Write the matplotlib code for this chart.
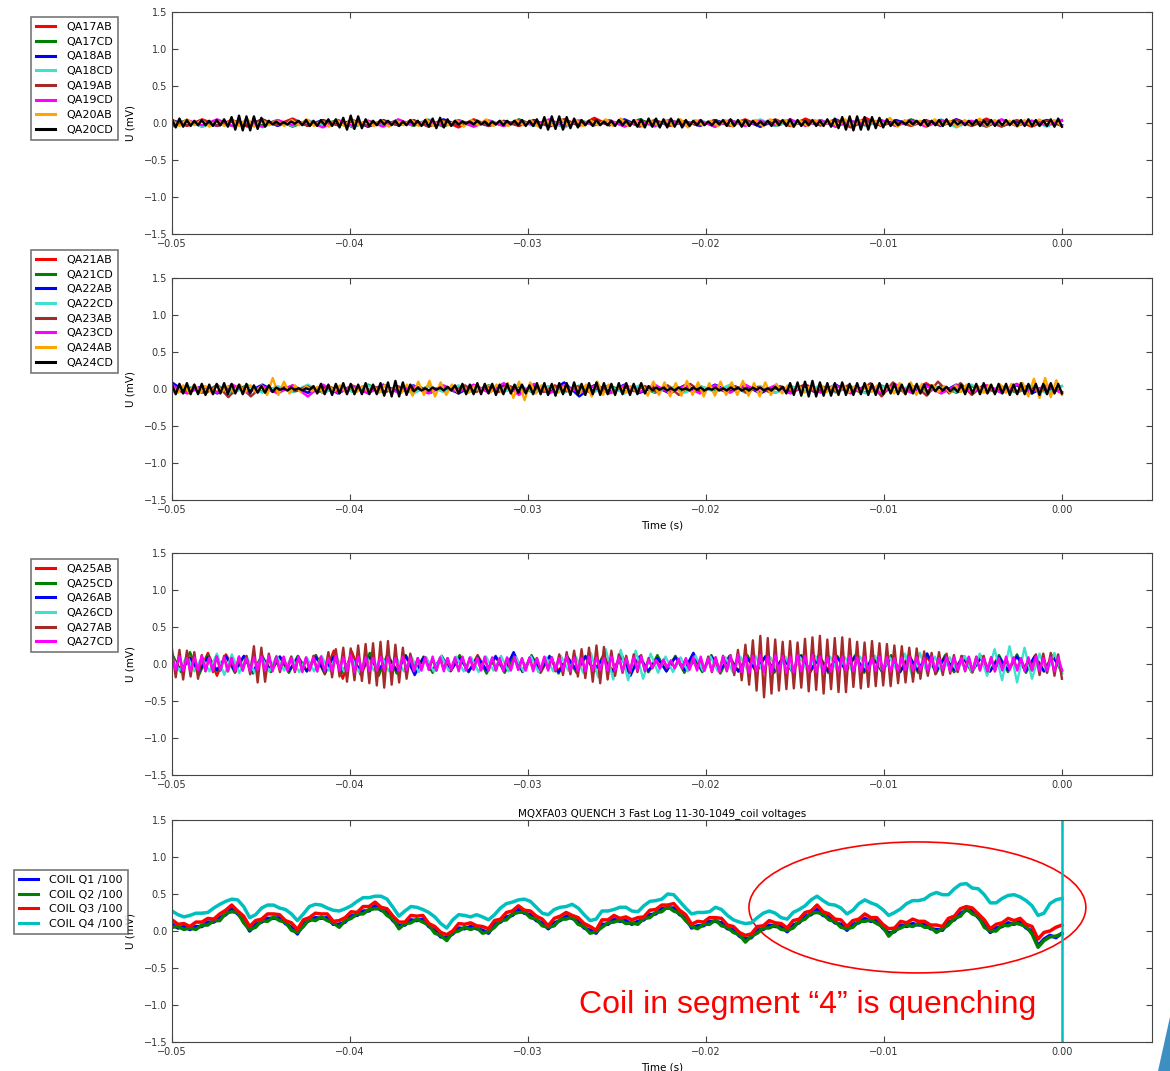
import numpy as np
import matplotlib
matplotlib.use("Agg")
import matplotlib.pyplot as plt
from matplotlib.patches import Ellipse, Polygon

plt.rcParams["font.family"] = ["DejaVu Sans"]
plt.rcParams["xtick.direction"] = "in"
plt.rcParams["ytick.direction"] = "in"
plt.rcParams["xtick.top"] = True
plt.rcParams["ytick.right"] = True
plt.rcParams["xtick.major.size"] = 4
plt.rcParams["ytick.major.size"] = 4
plt.rcParams["axes.edgecolor"] = "#444444"
plt.rcParams["xtick.color"] = "#444444"
plt.rcParams["ytick.color"] = "#444444"
plt.rcParams["xtick.labelcolor"] = "#333333"
plt.rcParams["ytick.labelcolor"] = "#333333"

# all voltages below are in hundredths of a mV
# ---------------- panel 1 ----------------
qa17ab = [3,-4,5,-3,4,-5,3,-2,6,-4,3,-3,4,-5,2,-3,4,-4,3,-6,5,-3,2,-4,3,-3,5,-4,7,-3,
          4,-5,3,-4,2,-3,4,-3,5,-5,3,-4,6,-3,4,-5,7,-4,3,-3,4,-4,5,-3,6,-4,3,-5,4,-3]
qa17cd = [-3,4,-5,3,-4,2,-3,4,-5,3,-2,4,-6,3,-3,4,-4,3,-5,4,-3,2,-4,5,-3,3,-6,4,-3,3,
          -4,5,-3,4,-2,3,-5,4,-3,3,-4,2,-3,4,-5,3,-3,4,-4,5,-3,3,-4,2,-5,4,-3,3,-4,3]
qa18ab = [4,-3,3,-4,2,-3,5,-4,3,-3,4,-2,3,-5,4,-3,3,-4,5,-3,2,-4,3,-3,4,-5,3,-2,4,-3,
          5,-4,3,-3,2,-4,4,-3,3,-5,4,-3,2,-3,5,-4,3,-3,4,-2,3,-4,5,-3,3,-4,2,-3,4,-3]
qa18cd = [-4,3,-5,4,-3,2,-6,3,-4,4,-3,3,-5,2,-4,3,-3,5,-4,3,-5,4,-3,2,-4,3,-6,4,-3,3,
          -4,2,-5,3,-3,4,-4,3,-3,5,-4,2,-3,4,-5,3,-4,3,-3,2,-4,5,-6,3,-3,4,-4,3,-5,4]
qa19ab = [3,-3,4,-4,3,-2,4,-3,5,-4,3,-3,2,-4,3,-3,4,-5,3,-3,4,-4,2,-3,3,-4,5,-3,4,-3,
          3,-4,4,-3,2,-3,3,-4,4,-3,5,-4,3,-3,4,-6,3,-3,2,-4,3,-3,4,-4,3,-5,4,-3,3,-4]
qa19cd = [-5,4,-3,5,-4,3,-5,4,-3,3,-6,4,-4,3,-5,5,-3,4,-4,3,-5,3,-4,4,-3,5,-4,3,-3,4,
          -5,3,-4,4,-3,3,-5,4,-4,3,-3,5,-4,4,-5,3,-3,4,-4,3,-5,4,-3,3,-4,5,-4,3,-3,4]
qa20ab = [4,-4,5,-3,4,-5,3,-4,5,-4,6,-5,4,-3,3,-4,4,-3,5,-4,3,-5,4,-4,5,-3,3,-4,4,-5,
          3,-3,4,-4,5,-4,3,-3,4,-5,4,-3,5,-4,3,-4,4,-3,3,-5,4,-4,5,-3,4,-4,3,-3,5,-4,
          6,-4,4,-5,3,-3,4,-4,5,-6,4,-3,3,-4,4,-5,3,-3,4,-4,5,-3,4,-5,3,-4,4,-3,3,-4,
          5,-5,4,-3,3,-4,7,-5,4,-3,3,-4,5,-4,3,-5,4,-3,6,-4,4,-3,3,-5,4,-4,5,-3,4,-4]
qa20cd = [5,-6,6,-5,4,-4,3,-3,4,-3,3,-4,4,-3,5,-5,8,-9,10,-10,
          9,-10,9,-8,7,-5,3,-2,2,-2,1,-2,2,-1,3,-3,4,-4,3,-4,
          4,-3,5,-4,5,-6,7,-9,10,-8,9,-7,5,-4,3,-3,4,-2,3,-3,
          3,-4,2,-3,4,-3,3,-4,4,-5,6,-7,7,-6,5,-4,3,-2,2,-1,
          2,-2,3,-2,2,-3,2,-2,3,-3,3,-2,3,-3,4,-4,3,-4,5,-7,
          8,-9,9,-8,9,-9,8,-7,6,-6,4,-3,3,-4,4,-3,2,-3,3,-4,
          4,-3,3,-4,4,-5,5,-6,6,-5,6,-6,5,-6,6,-5,5,-6,4,-4,
          3,-3,4,-3,2,-3,3,-2,4,-4,5,-4,4,-5,4,-4,3,-3,2,-3,
          3,-4,4,-3,4,-4,5,-5,4,-4,3,-3,4,-4,3,-4,5,-5,6,-7,
          8,-9,9,-10,9,-9,8,-9,8,-7,7,-6,5,-4,3,-3,2,-2,3,-2,
          3,-3,4,-4,3,-3,4,-4,5,-4,3,-2,2,-3,3,-3,4,-4,3,-3,
          4,-4,3,-3,4,-3,3,-4,4,-4,5,-4,4,-4,3,-4,5,-5,6,-5]

# ---------------- panel 2 ----------------
qa21ab = [4,-5,3,-4,5,-4,4,-3,5,-5,3,-4,4,-3,5,-4,3,-5,4,-4,5,-3,4,-4,3,-5,4,-4,5,-3,
          4,-5,3,-4,5,-4,3,-3,4,-5,4,-4,6,-3,5,-4,3,-5,4,-4,8,-5,4,-3,5,-4,7,-4,5,-4]
qa21cd = [-4,3,-5,4,-3,5,-4,3,-4,4,-5,3,-3,6,-4,3,-5,4,-3,4,-4,5,-3,3,-5,4,-4,3,-3,5,
          -4,4,-5,3,-4,4,-3,5,-4,3,-5,4,-3,4,-4,3,-5,5,-4,3,-3,4,-5,4,-4,3,-5,4,-3,4]
qa22ab = [9,-5,4,-6,5,-4,6,-5,4,-5,5,-6,4,-5,6,-4,5,-5,4,-6,5,-4,6,-5,4,-5,9,-10,5,-4,
          6,-5,4,-6,5,-5,6,-4,5,-6,4,-5,5,-4,6,-5,4,-6,5,-4,5,-5,6,-4,4,-5,5,-6,4,-5]
qa22cd = [-5,4,-4,5,-6,4,-5,4,-4,6,-5,3,-4,5,-5,4,-6,4,-4,5,-5,4,-4,6,-5,4,-5,5,-4,4,
          -6,5,-4,3,-5,4,-4,6,-5,4,-5,4,-4,5,-5,4,-6,4,-4,5,-5,3,-4,6,-5,4,-4,5,-6,4]
qa23ab = [3,-5,4,-6,6,-11,5,-10,4,-4,3,-3,4,-4,3,-3,5,-4,3,-4,4,-3,3,-5,4,-3,5,-4,3,-4,
          4,-3,3,-4,5,-3,4,-4,3,-5,4,-3,4,-4,5,-8,7,-4,3,-3,4,-5,3,-4,4,-3,5,-4,3,-4,
          5,-4,8,-10,9,-5,4,-9,10,-6,8,-8,5,-4,3,-4,5,-4,3,-4]
qa23cd = [5,-6,4,-5,6,-5,4,-6,5,-10,6,-5,4,-6,5,-5,4,-6,5,-4,6,-5,8,-8,7,-6,5,-5,4,-6,
          5,-4,6,-5,4,-6,5,-5,6,-4,5,-6,4,-5,5,-6,4,-5,6,-5,4,-6,5,-4,5,-5,6,-4,5,-6]
qa24ab = [4,-5,5,-4,6,-5,4,-4,5,-3,4,-4,6,-5,5,-4,5,-8,15,-8,
          10,-6,5,-4,4,-3,3,-4,4,-3,5,-4,3,-4,4,-3,4,-5,5,-4,
          4,-5,6,-9,10,-8,11,-10,9,-8,6,-4,4,-5,4,-3,5,-4,6,-5,
          8,-12,10,-15,9,-6,5,-4,4,-5,3,-4,5,-4,6,-10,10,-8,6,-5,
          4,-5,4,-4,6,-9,10,-8,9,-10,8,-9,11,-8,9,-10,8,-9,10,-8,
          9,-8,11,-9,8,-10,9,-8,7,-6,5,-4,4,-5,4,-3,5,-4,4,-5,
          5,-4,4,-5,6,-4,5,-5,4,-6,8,-7,9,-8,7,-6,5,-4,4,-5,
          5,-4,6,-5,4,-5,5,-4,6,-5,7,-6,8,-10,14,-12,15,-11,12,-8]
qa24cd = [6,-7,7,-6,8,-7,6,-7,7,-8,6,-7,7,-6,8,-7,7,-6,6,-7,
          7,-6,5,-5,4,-5,5,-4,2,-1,1,-2,2,-1,1,-2,1,-1,4,-6,
          7,-7,6,-8,7,-6,8,-7,7,-7,6,-7,8,-7,6,-7,8,-9,9,-10,
          11,-10,9,-8,6,-3,2,-2,1,-2,2,-1,2,-2,3,-2,5,-6,7,-7,
          6,-7,8,-7,7,-6,7,-8,6,-7,7,-6,6,-5,6,-6,5,-7,8,-7,
          8,-8,7,-9,8,-7,8,-8,9,-8,7,-8,8,-7,9,-8,8,-7,7,-8,
          8,-7,8,-8,7,-7,8,-6,4,-2,2,-1,2,-2,1,-2,2,-1,1,-2,
          2,-1,2,-2,1,-1,2,-2,1,-2,2,-1,2,-2,1,-2,2,-1,2,-2,
          1,-2,3,-2,3,-6,8,-8,9,-9,10,-10,11,-10,9,-9,8,-9,8,-8,
          9,-8,7,-8,8,-7,8,-8,7,-8,8,-7,7,-6,7,-7,6,-7,7,-6,
          7,-6,6,-7,5,-3,3,-2,3,-3,2,-4,6,-7,7,-6,7,-7,8,-6,
          6,-7,7,-6,7,-8,6,-7,8,-7,7,-6,7,-8,7,-7,8,-6,7,-6]

# ---------------- panel 3 ----------------
qa25ab = [12,-10,9,-12,15,-16,13,-9,10,-11,8,-10,9,-11,10,-9,12,-14,18,-20,
          17,-15,11,-10,9,-8,10,-11,9,-10,8,-9,10,-11,12,-10,9,-8,11,-10,
          9,-12,10,-9,8,-10,9,-8,10,-9,11,-10,9,-11,8,-9,10,-8,9,-10,
          11,-9,8,-10,9,-11,10,-9,8,-10,9,-11,10,-8,9,-10,11,-9,10,-8,
          9,-11,12,-10,9,-9,10,-11,8,-9,10,-10,9,-8,11,-10,9,-9,12,-10]
qa25cd = [14,-11,16,-15,12,-10,11,-12,10,-13,12,-11,10,-12,11,-10,12,-13,11,-12,
          10,-11,15,-16,14,-13,12,-11,10,-12,11,-10,12,-11,10,-13,11,-12,10,-11,
          12,-10,11,-13,10,-12,11,-10,12,-11,13,-12,10,-11,12,-10,11,-12,10,-11,
          12,-13,11,-10,12,-11,10,-12,11,-10,12,-11,13,-12,11,-10,12,-12,10,-11,
          12,-10,11,-12,14,-13,12,-11,10,-12,11,-10,12,-11,13,-12,11,-10,12,-12]
qa26ab = [10,-9,8,-10,9,-8,10,-9,11,-10,9,-8,10,-9,8,-10,9,-11,10,-9,
          8,-10,9,-8,10,-9,11,-15,9,-8,10,-9,8,-10,9,-8,10,-9,16,-10,
          9,-8,10,-11,9,-8,10,-9,8,-10,9,-16,10,-9,8,-10,9,-8,15,-9,
          10,-8,9,-10,8,-9,10,-8,9,-10,11,-9,8,-10,9,-8,10,-9,8,-10,
          9,-11,10,-9,14,-10,9,-8,10,-9,8,-10,9,-8,10,-9,11,-10,9,-8]
qa26cd = [10,-9,11,-10,9,-10,14,-15,13,-12,10,-11,9,-10,11,-9,10,-11,9,-10,
          11,-9,10,-10,9,-11,10,-9,11,-10,9,-10,10,-11,9,-10,11,-9,10,-10,
          9,-11,10,-9,11,-10,9,-10,10,-11,9,-10,11,-9,10,-12,15,-18,20,-21,
          19,-22,18,-20,14,-12,10,-11,9,-10,11,-9,10,-10,9,-11,10,-9,11,-10,
          9,-10,10,-11,9,-10,11,-9,10,-10,9,-11,10,-9,11,-10,9,-10,14,-16,
          15,-13,10,-11,9,-10,11,-12,14,-16,20,-22,24,-25,22,-20,14,-12,15,-13]
qa27ab = [20,-18,19,-21,18,-17,16,-20,12,-10,9,-11,10,-9,11,-10,8,-11,10,-9,
          11,-14,24,-25,22,-24,14,-9,10,-11,9,-8,10,-11,9,-10,8,-9,11,-10,
          9,-12,16,-18,20,-17,22,-24,21,-22,25,-23,27,-26,28,-29,30,-32,31,-28,
          26,-25,22,-20,14,-9,8,-7,9,-8,7,-9,8,-7,8,-9,7,-8,9,-7,
          8,-7,9,-8,7,-8,8,-9,7,-8,8,-7,9,-8,7,-8,8,-7,8,-9,
          8,-7,9,-10,13,-15,16,-14,18,-17,20,-19,22,-24,25,-26,23,-21,18,-16,
          13,-12,11,-12,13,-11,12,-10,8,-6,5,-4,5,-5,4,-5,6,-4,5,-5,
          4,-6,7,-9,10,-11,9,-10,11,-10,12,-15,19,-22,26,-28,32,-36,38,-45,
          35,-40,33,-36,30,-34,31,-33,29,-32,34,-37,36,-35,38,-40,33,-34,35,-38,
          36,-38,34,-31,30,-33,29,-31,31,-30,28,-29,27,-30,25,-26,24,-25,22,-24,
          21,-20,17,-16,15,-14,16,-15,14,-13,12,-11,11,-10,9,-11,10,-9,11,-10,
          9,-10,8,-6,5,-6,4,-5,6,-5,5,-9,13,-15,14,-12,15,-16,13,-20]
qa27cd = [9,-8,10,-9,8,-10,9,-8,11,-9,8,-9,10,-8,9,-10,8,-9,10,-9,
          8,-10,9,-8,10,-9,11,-10,9,-8,10,-9,8,-9,10,-11,9,-8,9,-10,
          10,-9,8,-10,11,-9,9,-10,12,-11,10,-9,9,-10,8,-9,10,-8,9,-9,
          8,-9,10,-8,9,-10,8,-9,9,-8,10,-9,9,-10,8,-8,9,-10,10,-9,
          9,-8,8,-9,10,-9,9,-8,8,-10,9,-9,10,-8,8,-9,9,-10,8,-8,
          10,-9,9,-8,8,-9,11,-10,9,-9,8,-10,10,-9,9,-8,8,-9,10,-9,
          9,-10,8,-9,9,-8,10,-9,6,-5,5,-6,6,-5,5,-6,7,-6,8,-8,
          9,-9,10,-9,8,-10,9,-11,10,-9,11,-10,12,-11,10,-12,11,-10,12,-11,
          10,-11,12,-10,11,-12,10,-11,12,-10,11,-10,12,-11,10,-11,9,-10,11,-10,
          10,-9,11,-10,9,-10,10,-9,8,-9,10,-8,9,-10,8,-9,9,-8,10,-9,
          9,-8,8,-9,10,-9,8,-8,9,-10,9,-8,8,-9,10,-9,9,-8,8,-9,
          9,-10,8,-9,10,-8,9,-9,8,-10,9,-8,10,-9,8,-9,9,-10,9,-8]

# ---------------- panel 4 (coil voltages /100) ----------------
coil_q1 = [9,4,6,2,6,6,12,12,18,22,30,23,15,0,9,12,17,17,18,10,
           5,-4,10,14,18,17,18,9,9,12,21,21,27,27,34,28,25,14,7,8,
           15,14,16,6,1,-8,-9,-4,4,3,6,3,1,-3,9,12,19,21,29,24,
           22,14,11,3,11,14,20,17,13,4,1,-3,9,9,16,13,14,9,13,15,
           22,23,30,31,31,22,18,4,7,7,13,13,11,3,2,-7,-11,-9,1,2,
           8,6,6,-1,8,11,20,22,29,21,19,11,9,1,9,11,17,13,14,4,
           -3,-1,8,6,10,8,9,3,2,1,12,15,24,28,27,18,9,-2,4,6,
           11,9,13,4,0,-20,-11,-6,-9,-3]
coil_q2 = [5,6,2,4,2,8,8,14,14,24,26,25,11,2,5,14,13,19,14,12,
           1,-2,6,16,14,19,14,11,5,14,17,23,23,29,30,30,21,16,3,10,
           11,16,12,8,-3,-6,-13,-2,0,5,2,5,-3,-1,5,14,15,23,25,26,
           18,16,7,5,7,16,16,19,9,6,-3,-1,5,11,12,15,10,11,9,17,
           18,25,26,33,27,24,14,6,3,9,9,15,7,5,-2,-5,-15,-7,-3,4,
           4,8,2,1,4,13,16,24,25,23,15,13,5,3,5,13,13,15,10,6,
           -7,1,4,8,6,10,5,5,-2,3,8,17,20,30,23,20,5,0,0,8,
           7,11,9,6,-4,-22,-13,-8,-7,-4]
coil_q3 = [15,9,10,6,12,12,17,16,23,28,35,27,20,6,14,16,23,23,22,14,
           11,2,15,18,24,23,23,13,14,18,26,25,33,33,39,32,30,20,12,12,
           21,20,21,10,6,-2,-5,0,10,9,11,7,6,3,14,16,25,27,34,28,
           27,20,16,7,17,20,25,21,18,10,6,1,15,15,21,17,19,15,18,19,
           28,29,35,35,37,28,22,9,13,12,18,18,17,8,6,-2,-6,-4,6,7,
           14,11,10,4,14,16,25,27,35,26,23,16,15,6,14,16,23,18,18,9,
           3,4,13,11,16,13,13,8,8,6,17,20,30,33,31,23,15,3,9,11,
           17,14,17,9,6,-11,-2,0,5,8]
coil_q4 = [27,22,19,21,24,24,25,31,36,40,43,42,33,18,22,31,35,35,31,29,
           23,14,23,33,36,35,31,28,27,30,34,40,45,45,47,47,43,32,20,27,
           33,32,29,25,19,10,4,15,22,21,19,22,19,15,22,31,37,39,42,43,
           40,32,24,22,29,32,33,36,31,22,14,16,27,27,29,32,32,27,26,34,
           40,41,43,50,49,40,31,23,25,25,26,32,29,21,15,12,10,11,18,24,
           27,24,18,16,25,29,34,42,47,41,36,35,31,23,28,37,42,38,35,29,
           21,25,30,37,41,41,43,49,52,49,49,57,63,64,58,57,49,38,38,44,
           48,49,46,41,34,21,24,37,42,44]

panel1_labels = ["QA17AB", "QA17CD", "QA18AB", "QA18CD", "QA19AB", "QA19CD", "QA20AB", "QA20CD"]
panel1_series = [qa17ab, qa17cd, qa18ab, qa18cd, qa19ab, qa19cd, qa20ab, qa20cd]
panel2_labels = ["QA21AB", "QA21CD", "QA22AB", "QA22CD", "QA23AB", "QA23CD", "QA24AB", "QA24CD"]
panel2_series = [qa21ab, qa21cd, qa22ab, qa22cd, qa23ab, qa23cd, qa24ab, qa24cd]
panel3_labels = ["QA25AB", "QA25CD", "QA26AB", "QA26CD", "QA27AB", "QA27CD"]
panel3_series = [qa25ab, qa25cd, qa26ab, qa26cd, qa27ab, qa27cd]
panel4_labels = ["COIL Q1 /100", "COIL Q2 /100", "COIL Q3 /100", "COIL Q4 /100"]
panel4_series = [coil_q1, coil_q2, coil_q3, coil_q4]

qa_colors = ["red", "green", "blue", "turquoise", "brown", "magenta", "orange", "black"]
coil_colors = ["b", "g", "r", "c"]

x_ticks = [-0.05, -0.04, -0.03, -0.02, -0.01, 0.00]
y_ticks = [-1.5, -1.0, -0.5, 0.0, 0.5, 1.0, 1.5]

fig = plt.figure(figsize=(11.7, 10.71), dpi=100)
fig.patch.set_facecolor("white")

ax_left, ax_width, ax_height = 0.147, 0.8376, 0.2073
ax_bottoms = [0.7815, 0.5331, 0.2764, 0.0271]


def draw_panel(ax, labels, series, colors, anchor, lw=1.7):
    for lab, vals, col in zip(labels, series, colors):
        v = np.array(vals) / 100.0
        t = np.linspace(-0.05, 0.0, len(v))
        ax.plot(t, v, color=col, lw=lw, label=lab)
    ax.set_xlim(-0.05, 0.00506)
    ax.set_ylim(-1.5, 1.5)
    ax.set_xticks(x_ticks)
    ax.set_yticks(y_ticks)
    ax.tick_params(labelsize=7)
    ax.set_ylabel("U (mV)", fontsize=7.5, labelpad=6)
    leg = ax.legend(loc="upper right", bbox_to_anchor=anchor, fontsize=8,
                    fancybox=False, borderaxespad=0, handlelength=1.7,
                    handletextpad=1.0, labelspacing=0.42, borderpad=0.45)
    leg.get_frame().set_edgecolor("#555555")
    leg.get_frame().set_linewidth(1.2)
    for line in leg.get_lines():
        line.set_linewidth(2.2)
    return leg


axes = [fig.add_axes([ax_left, b, ax_width, ax_height]) for b in ax_bottoms]

draw_panel(axes[0], panel1_labels, panel1_series, qa_colors, (-0.055, 0.977))
draw_panel(axes[1], panel2_labels, panel2_series, qa_colors, (-0.055, 1.127))
axes[1].set_xlabel("Time (s)", fontsize=7.5)
draw_panel(axes[2], panel3_labels, panel3_series, qa_colors[:6], (-0.055, 0.973))
draw_panel(axes[3], panel4_labels, panel4_series, coil_colors, (-0.045, 0.775), lw=2.5)
axes[3].set_xlabel("Time (s)", fontsize=7.5)
axes[3].set_title("MQXFA03 QUENCH 3 Fast Log 11-30-1049_coil voltages", fontsize=7.5, pad=3)

# quench: Q4 trace shoots off-scale at t = 0
axes[3].axvline(0.0, color="c", lw=1.8)

axes[3].add_patch(Ellipse((-0.00812, 0.318), width=0.01893, height=1.77,
                          fill=False, edgecolor="red", lw=1.2))
axes[3].text(-0.0143, -1.0, "Coil in segment \u201c4\u201d is quenching", color="red",
             fontsize=23, family=["Liberation Sans", "DejaVu Sans"],
             ha="center", va="center")

# slide decoration in the corner
fig.patches.append(Polygon([(0.9897, 0.0), (1.0, 0.0), (1.0, 0.0504)], closed=True,
                           transform=fig.transFigure, facecolor="#3d8fc2",
                           edgecolor="none"))

fig.savefig("out.png", dpi=100, facecolor="white")
